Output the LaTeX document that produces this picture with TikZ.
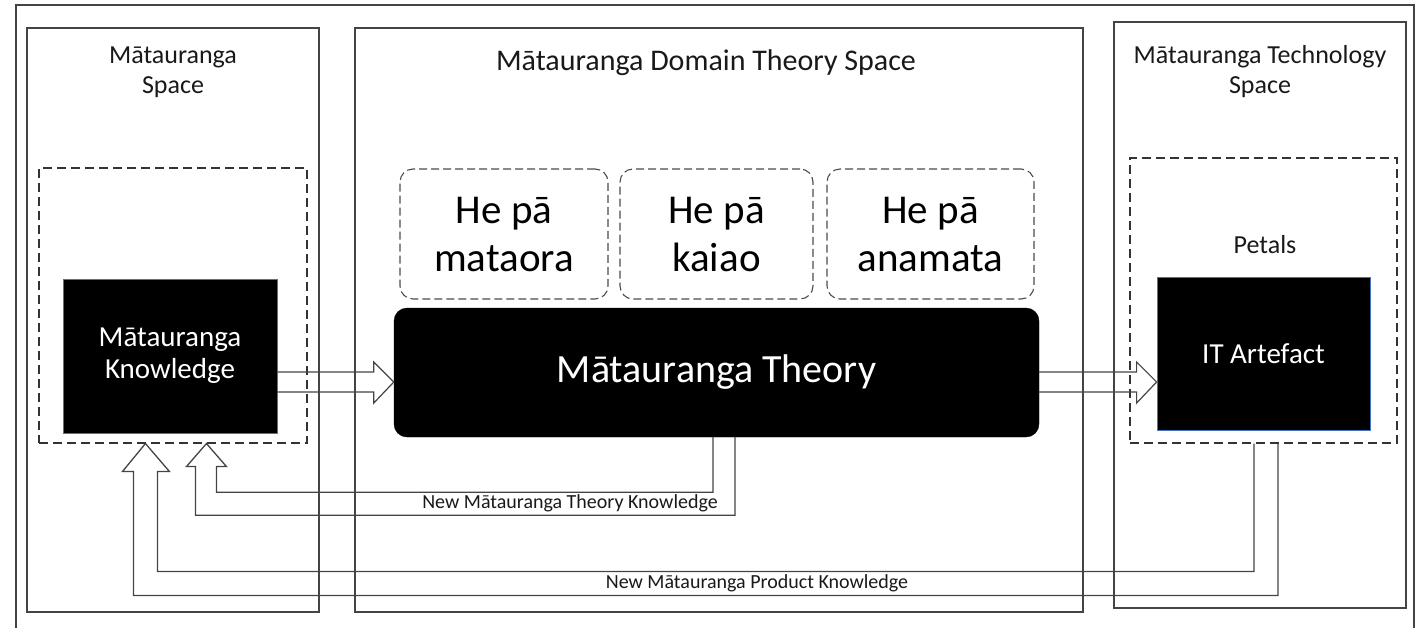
\documentclass[tikz,border=0pt]{standalone}
\usepackage{fontspec}
\setmainfont{Carlito}
\usetikzlibrary{calc}
\definecolor{linegray}{HTML}{444444}
\definecolor{edgeblue}{HTML}{4472C4}
\tikzset{
  spacebox/.style={draw=linegray, line width=1.3pt, minimum width=#1, inner sep=0pt},
  dashbox/.style={draw=black!80, line width=1.1pt, dash pattern=on 9pt off 5pt, inner sep=0pt},
  pabox/.style={draw=black!70, line width=1.1pt, dash pattern=on 8pt off 4pt, rounded corners=13pt,
     minimum height=130pt, inner sep=0pt, align=center, font=\fontsize{41}{48}\selectfont},
  blackbox/.style={fill=black, draw=edgeblue, line width=0.8pt, text=white, align=center, inner sep=0pt},
  titletext/.style={align=center, font=\fontsize{26}{30}\selectfont, text=black!90},
  barrow/.style={draw=linegray, line width=1.2pt, line join=miter},
  fbarrow/.style={draw=linegray, line width=1.3pt, line join=miter},
  smalllabel/.style={font=\fontsize{20}{22}\selectfont, text=black!90, inner sep=0pt},
}
\begin{document}
\begin{tikzpicture}[x=1pt, y=-1pt]
\useasboundingbox (0,0) rectangle (1420,627);
% outer frame (bottom edge beyond picture)
\draw[linegray, line width=1.3pt] (16,660) -- (16,5) -- (1414,5) -- (1414,660);

% space boxes
\node[spacebox=292pt, minimum height=584pt] (lspace) at (173,320) {};
\node[spacebox=728pt, minimum height=584pt] (mspace) at (719,320) {};
\node[spacebox=292pt, minimum height=586pt] (rspace) at (1260,315) {};

% titles
\node[titletext] (ltitle) at (173,72) {Mātauranga\\Space};
\node[titletext, font=\fontsize{30}{34}\selectfont] (mtitle) at (706,63) {Mātauranga Domain Theory Space};
\node[titletext] (rtitle) at (1260,72) {Mātauranga Technology\\Space};

% dashed containers
\node[dashbox, minimum width=268pt, minimum height=275pt] (ldash) at (173,305.5) {};
\node[dashbox, minimum width=267pt, minimum height=285pt] (rdash) at (1263.5,300.5) {};
\node[titletext] (petals) at (1265,245) {Petals};

% black boxes
\node[blackbox, minimum width=214pt, minimum height=154pt, font=\fontsize{29}{32}\selectfont] (know) at (170,356) {Mātauranga\\Knowledge};
\node[blackbox, minimum width=213pt, minimum height=153pt, font=\fontsize{29}{32}\selectfont] (it) at (1263.5,353.5) {IT Artefact};
\node[fill=black, draw=black, rounded corners=13pt, minimum width=645pt, minimum height=129pt, text=white, font=\fontsize{40}{46}\selectfont, inner sep=0pt] (theory) at (716.5,372.5) {Mātauranga Theory};

% He pā boxes
\node[pabox, minimum width=208pt] (pa1) at (504,234) {He pā\\mataora};
\node[pabox, minimum width=193pt] (pa2) at (716.5,234) {He pā\\kaiao};
\node[pabox, minimum width=207pt] (pa3) at (930.5,234) {He pā\\anamata};

% block arrow knowledge -> theory
\draw[barrow] ($(know.east)+(0,16)$) -- ($(theory.west)+(-20,-0.5)$) -- ($(theory.west)+(-20,-10.5)$)
  -- ($(theory.west)+(0,9.5)$) -- ($(theory.west)+(-20,30.5)$) -- ($(theory.west)+(-20,19.5)$)
  -- ($(know.east)+(0,36)$);
% block arrow theory -> IT artefact
\draw[barrow] ($(theory.east)+(0,-0.5)$) -- ($(it.west)+(-20,18.5)$) -- ($(it.west)+(-20,8.5)$)
  -- ($(it.west)+(0,28.5)$) -- ($(it.west)+(-20,49.5)$) -- ($(it.west)+(-20,38.5)$)
  -- ($(theory.east)+(0,19.5)$);

% feedback arrow: theory -> knowledge
\coordinate (s1) at ($(theory.south)+(-3.5,0)$);
\coordinate (s2) at ($(theory.south)+(18.5,0)$);
\coordinate (tip1) at ($(ldash.south west)+(168,0)$);
\draw[fbarrow] (s1) -- ++(0,55) -| ($(tip1)+(10,23)$) -- ++(10,0) -- (tip1)
  -- ($(tip1)+(-20,23)$) -- ++(9,0) |- ($(s2)+(0,78)$) -- (s2);

% feedback arrow: IT artefact -> knowledge
\coordinate (s3) at ($(rdash.south)+(-9.5,0)$);
\coordinate (s4) at ($(rdash.south)+(14.5,0)$);
\coordinate (tip2) at ($(ldash.south west)+(107,0)$);
\draw[fbarrow] (s3) -- ++(0,128) -| ($(tip2)+(12,28)$) -- ++(12,0) -- (tip2)
  -- ($(tip2)+(-23,28)$) -- ++(11,0) |- ($(s4)+(0,152)$) -- (s4);

% labels
\node[smalllabel] (lab1) at (570,503) {New Mātauranga Theory Knowledge};
\node[smalllabel] (lab2) at (757,583) {New Mātauranga Product Knowledge};
\end{tikzpicture}
\end{document}
